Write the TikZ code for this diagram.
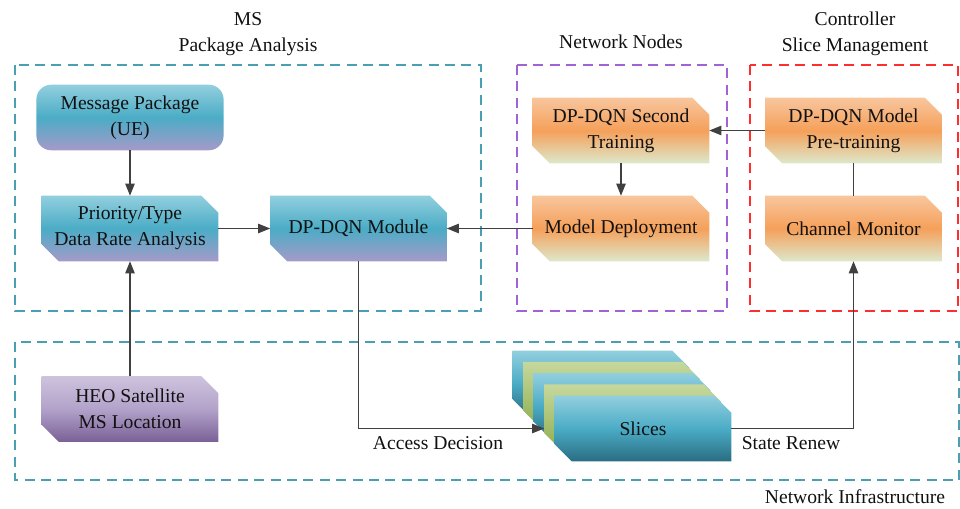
\documentclass[tikz,border=0pt]{standalone}
\usepackage{fontspec}
\setmainfont{Liberation Serif}
\usetikzlibrary{arrows.meta,calc,backgrounds}
\definecolor{txtc}{HTML}{111111}
\definecolor{lineg}{HTML}{404040}
\definecolor{dteal}{HTML}{4A9FB5}
\definecolor{dpurple}{HTML}{A062D4}
\definecolor{dred}{HTML}{FF2E2E}
\definecolor{btop}{HTML}{92CFDE}
\definecolor{bmid}{HTML}{4BACC6}
\definecolor{bbot}{HTML}{A59AC8}
\definecolor{otop}{HTML}{F8C69E}
\definecolor{omid}{HTML}{F5A05A}
\definecolor{obot}{HTML}{DDE8CB}
\definecolor{htop}{HTML}{CEC3DD}
\definecolor{hmid}{HTML}{B2A2CA}
\definecolor{hbot}{HTML}{7A6096}
\definecolor{gtop}{HTML}{C6D89C}
\definecolor{gbot}{HTML}{8FAE50}
\definecolor{sbot}{HTML}{2A6D82}
\newcommand\cutshape[2]{%
  \shade[#2] (#1.north west) -- ([xshift=-12.75pt]#1.north east) -- ([yshift=-12.75pt]#1.north east)
    -- (#1.south east) -- ([xshift=12.75pt]#1.south west) -- ([yshift=12.75pt]#1.south west) -- cycle;}
\begin{document}
\begin{tikzpicture}[x=0.75pt,y=-0.75pt,
  txt/.style={text=txtc, font=\fontsize{14.7}{19.5}\selectfont, align=center, inner sep=0pt},
  boxn/.style={txt, minimum width=132pt, minimum height=48.75pt},
  blueshade/.style={top color=btop, bottom color=bbot, middle color=bmid},
  orangeshade/.style={top color=otop, bottom color=obot, middle color=omid},
  heoshade/.style={top color=htop, bottom color=hbot, middle color=hmid},
  greenshade/.style={top color=gtop, bottom color=gbot},
  sliceshade/.style={top color=btop, bottom color=sbot, middle color=bmid},
  ln/.style={draw=lineg, line width=1pt},
  arr/.style={ln, -{Triangle[length=9pt,width=7pt]}},
  dbox/.style={line width=1.1pt, dash pattern=on 7.5pt off 4.8pt},
]
\useasboundingbox (0,0) rectangle (960,509);

% group frames
\draw[dbox, dteal] (15,65) rectangle (481,311);
\draw[dbox, dpurple] (517,65) rectangle (727,311);
\draw[dbox, dred] (750,65) rectangle (958,311);
\draw[dbox, dteal] (15,342) rectangle (959,480);

% group titles
\node[txt] (tms) at (248,34) {MS\\Package Analysis};
\node[txt] (tnn) at (621,42) {Network Nodes};
\node[txt] (tcs) at (855,34) {Controller\\Slice Management};
\node[txt] (tni) at (855,497) {Network Infrastructure};

% boxes
\node[boxn, minimum width=140pt] (msg) at (130,117.5) {Message Package\\(UE)};
\node[boxn] (prio) at (130,228.5) {Priority/Type\\Data Rate Analysis};
\node[boxn] (dqn) at (358.5,228.5) {DP-DQN Module};
\node[boxn] (sec) at (621,130.5) {DP-DQN Second\\Training};
\node[boxn] (dep) at (621,228.5) {Model Deployment};
\node[boxn] (pre) at (853.5,130.5) {DP-DQN Model\\Pre-training};
\node[boxn] (chm) at (853.5,228.5) {Channel Monitor};
\node[boxn] (heo) at (130,409) {HEO Satellite\\MS Location};

% slices stack
\node[boxn] (s1) at (601,383.5) {};
\node[boxn] (s2) at (611.5,394.75) {};
\node[boxn] (s3) at (622,406) {};
\node[boxn] (s4) at (632.5,417.25) {};
\node[boxn] (s5) at (643,428.5) {Slices};

\begin{pgfonlayer}{background}
  \shade[blueshade, rounded corners=11pt] (msg.north west) rectangle (msg.south east);
  \cutshape{prio}{blueshade}
  \cutshape{dqn}{blueshade}
  \cutshape{sec}{orangeshade}
  \cutshape{dep}{orangeshade}
  \cutshape{pre}{orangeshade}
  \cutshape{chm}{orangeshade}
  \cutshape{heo}{heoshade}
  \cutshape{s1}{sliceshade}
  \cutshape{s2}{greenshade}
  \cutshape{s3}{sliceshade}
  \cutshape{s4}{greenshade}
  \cutshape{s5}{sliceshade}
\end{pgfonlayer}

% connectors
\draw[arr] (msg) -- (prio);
\draw[arr] (prio) -- (dqn);
\draw[arr] (dep) -- (dqn);
\draw[arr] (pre) -- (sec);
\draw[arr] (sec) -- (dep);
\draw[ln] (pre) -- (chm);
\draw[arr] (heo) -- (prio);
\draw[arr] (dqn.south) |- (s4.west |- s5.west);
\draw[arr] (s5.east) -| (chm.south);

\node[txt] (acc) at (438,443) {Access Decision};
\node[txt] (ren) at (791,443) {State Renew};
\end{tikzpicture}
\end{document}
